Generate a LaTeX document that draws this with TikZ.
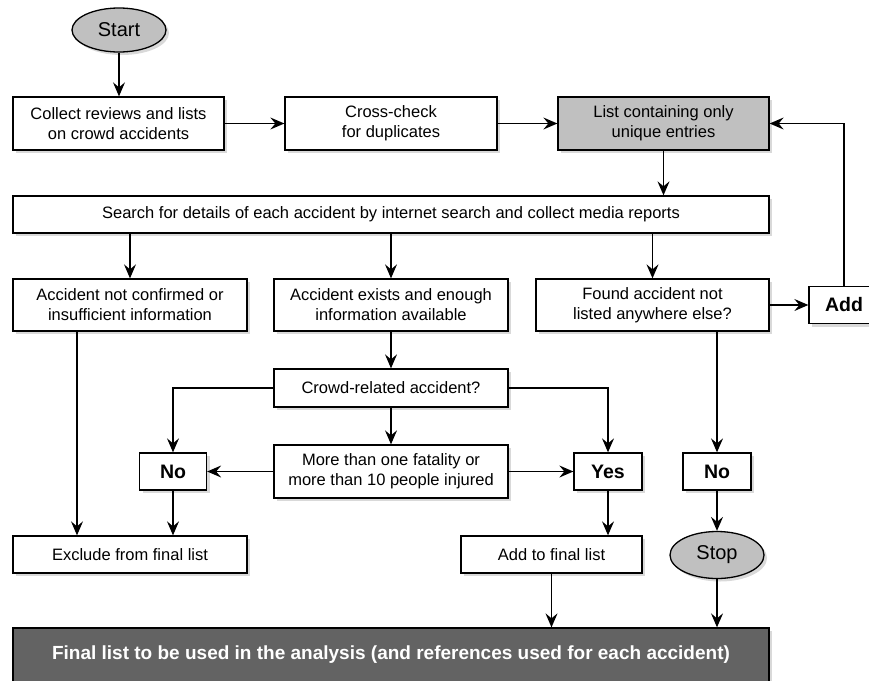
\documentclass[tikz,border=0pt]{standalone}
\usepackage{fontspec}
\setmainfont{Liberation Sans}
\usetikzlibrary{shapes.geometric,shadows,arrows.meta}
\definecolor{lightfill}{HTML}{C0C0C0}
\definecolor{darkfill}{HTML}{636363}
\begin{document}
\begin{tikzpicture}[x=1pt,y=-1pt,
    box/.style={draw=black,fill=white,line width=1.3pt,align=center,inner sep=0pt,
        font=\fontsize{16.5}{20}\selectfont,drop shadow={opacity=0.3,shadow xshift=3pt,shadow yshift=-3pt}},
    answer/.style={box,font=\fontsize{19.5}{22}\selectfont\bfseries,minimum width=67pt,minimum height=37pt},
    terminal/.style={box,ellipse,fill=lightfill,minimum width=94pt,font=\fontsize{20}{22}\selectfont},
    arr/.style={-{Stealth[length=14pt,width=12pt,inset=5pt]},line width=1.3pt}]
    \useasboundingbox (0,0) rectangle (869,680);
    \node[terminal,minimum height=44pt] (start) at (119,30) {Start};
    \node[box,minimum width=211pt,minimum height=53pt] (collect) at (118.5,123.5) {Collect reviews and lists\\on crowd accidents};
    \node[box,minimum width=212pt,minimum height=53pt] (cross) at (391,123.5) {Cross-check\\for duplicates};
    \node[box,fill=lightfill,minimum width=211pt,minimum height=53pt] (unique) at (663.5,123.5) {List containing only\\unique entries};
    \node[box,minimum width=756pt,minimum height=37pt] (search) at (391,214.5) {Search for details of each accident by internet search and collect media reports};
    \node[box,minimum width=234pt,minimum height=52pt] (notconf) at (130,305) {Accident not confirmed or\\insufficient information};
    \node[box,minimum width=234pt,minimum height=52pt] (exists) at (391,305) {Accident exists and enough\\information available};
    \node[box,minimum width=233pt,minimum height=52pt] (found) at (652.5,305) {Found accident not\\listed anywhere else?};
    \node[answer,minimum width=70pt] (add) at (844,305) {Add};
    \node[box,minimum width=234pt,minimum height=38pt] (crowd) at (391,388) {Crowd-related accident?};
    \node[box,minimum width=234pt,minimum height=53pt] (more) at (391,471.5) {More than one fatality or\\more than 10 people injured};
    \node[answer] (noL) at (173,471.5) {No};
    \node[answer,minimum width=68pt] (yes) at (608,471.5) {Yes};
    \node[answer,minimum width=68pt] (noR) at (717,471.5) {No};
    \node[box,minimum width=234pt,minimum height=37pt] (exclude) at (130,554.5) {Exclude from final list};
    \node[box,minimum width=181pt,minimum height=37pt] (addfinal) at (551.5,554.5) {Add to final list};
    \node[terminal,minimum height=47pt] (stop) at (717,555) {Stop};
    \node[box,fill=darkfill,text=white,minimum width=756pt,minimum height=54pt,
        font=\fontsize{19}{22}\selectfont\bfseries] (final) at (391,655) {Final list to be used in the analysis (and references used for each accident)};
    % upper part
    \draw[arr] (start.south) -- (start.south |- collect.north);
    \draw[arr] (collect) -- (cross);
    \draw[arr] (cross) -- (unique);
    \draw[arr] (unique.south) -- (unique.south |- search.north);
    \draw[arr] (notconf.north |- search.south) -- (notconf.north);
    \draw[arr] (exists.north |- search.south) -- (exists.north);
    \draw[arr] (found.north |- search.south) -- (found.north);
    \draw[arr] (found.east) -- (found.east -| add.west);
    \draw[arr] (add.north) |- (unique.east);
    % decisions
    \draw[arr] (exists) -- (crowd);
    \draw[arr] (crowd) -- (more);
    \draw[arr] (crowd.west) -| (noL.north);
    \draw[arr] (crowd.east) -| (yes.north);
    \draw[arr] (more) -- (noL);
    \draw[arr] (more) -- (yes);
    \draw[arr] (noL) -- (noL |- exclude.north);
    \draw[arr] ([xshift=-53pt]notconf.south) -- ([xshift=-53pt]notconf.south |- exclude.north);
    \draw[arr] (yes) -- (yes |- addfinal.north);
    \draw[arr] (noR.north |- found.south) -- (noR.north);
    \draw[arr] (noR) -- (stop);
    % final list
    \draw[arr] (addfinal) -- (addfinal |- final.north);
    \draw[arr] (stop) -- (stop |- final.north);
\end{tikzpicture}
\end{document}
